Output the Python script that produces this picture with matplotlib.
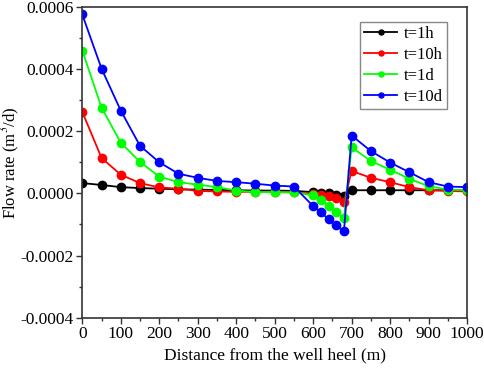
import numpy as np
import matplotlib
matplotlib.use('Agg')
import matplotlib.pyplot as plt
from matplotlib.ticker import MultipleLocator

plt.rcParams['font.family'] = ['Liberation Serif', 'DejaVu Serif']
plt.rcParams['mathtext.fontset'] = 'stix'

# distance along the well (m)
dist = [0, 50, 100, 150, 200, 250, 300, 350, 400, 450, 500, 550,
        600, 620, 640, 660, 680, 700, 750, 800, 850, 900, 950, 1000]

q_1h = [0.000033, 0.000027, 0.000020, 0.000017, 0.000015, 0.000013, 0.000012, 0.000011,
        0.000010, 0.000009, 0.000009, 0.000008,
        0.000004, 0.000002, 0.000000, -0.000005, -0.000010,
        0.000010, 0.000010, 0.000010, 0.000010, 0.000010, 0.000010, 0.000010]
q_10h = [0.000262, 0.000114, 0.000060, 0.000033, 0.000019, 0.000015, 0.000008, 0.000006,
         0.000005, 0.000005, 0.000004, 0.000003,
         -0.000002, -0.000005, -0.000009, -0.000016, -0.000029,
         0.000072, 0.000050, 0.000036, 0.000020, 0.000010, 0.000008, 0.000006]
q_1d = [0.000459, 0.000276, 0.000163, 0.000101, 0.000054, 0.000036, 0.000028, 0.000020,
        0.000009, 0.000004, 0.000004, 0.000003,
        -0.000006, -0.000022, -0.000040, -0.000060, -0.000080,
        0.000148, 0.000104, 0.000076, 0.000047, 0.000023, 0.000012, 0.000010]
q_10d = [0.000575, 0.000401, 0.000266, 0.000153, 0.000100, 0.000063, 0.000050, 0.000040,
         0.000036, 0.000031, 0.000025, 0.000022,
         -0.000041, -0.000060, -0.000084, -0.000103, -0.000122,
         0.000186, 0.000136, 0.000099, 0.000068, 0.000036, 0.000022, 0.000020]

series = [('t=1h', q_1h, 'black'), ('t=10h', q_10h, '#ff0000'),
          ('t=1d', q_1d, '#00ff00'), ('t=10d', q_10d, '#0000ff')]

fig = plt.figure(figsize=(4.84, 3.73), dpi=100)
ax = fig.add_axes([0.170, 0.148, 0.795, 0.834])

for lab, q, c in series:
    ax.plot(dist, q, color=c, lw=1.3, marker='o', ms=6, label=lab)

ax.set_xlim(0, 1000)
ax.set_ylim(-0.0004, 0.0006)
ax.xaxis.set_major_locator(MultipleLocator(100))
ax.xaxis.set_minor_locator(MultipleLocator(50))
ax.yaxis.set_major_locator(MultipleLocator(0.0002))
ax.yaxis.set_minor_locator(MultipleLocator(0.0001))
ax.yaxis.set_major_formatter(matplotlib.ticker.FormatStrFormatter('%.4f'))
ax.tick_params(which='major', direction='out', length=4, width=1, labelsize=12.5, colors='#333333',
               labelcolor='black', pad=2)
ax.tick_params(which='minor', direction='out', length=2.5, width=1, colors='#333333')
for s in ax.spines.values():
    s.set_linewidth(1.2)
    s.set_color('#333333')

ax.set_xlabel('Distance from the well heel (m)', fontsize=12.5)
ax.set_ylabel('Flow rate (m$^3$/d)', fontsize=12)
ax.yaxis.set_label_coords(-0.157, 0.5)

leg = ax.legend(loc='upper right', fontsize=12, markerscale=0.6, fancybox=False,
                framealpha=1, edgecolor='#888888', handlelength=2.0,
                borderpad=0.25, labelspacing=0.3, handletextpad=0.4,
                borderaxespad=0, bbox_to_anchor=(0.948, 0.952))
leg.get_frame().set_linewidth(1.0)

fig.savefig('out.png', dpi=100)
